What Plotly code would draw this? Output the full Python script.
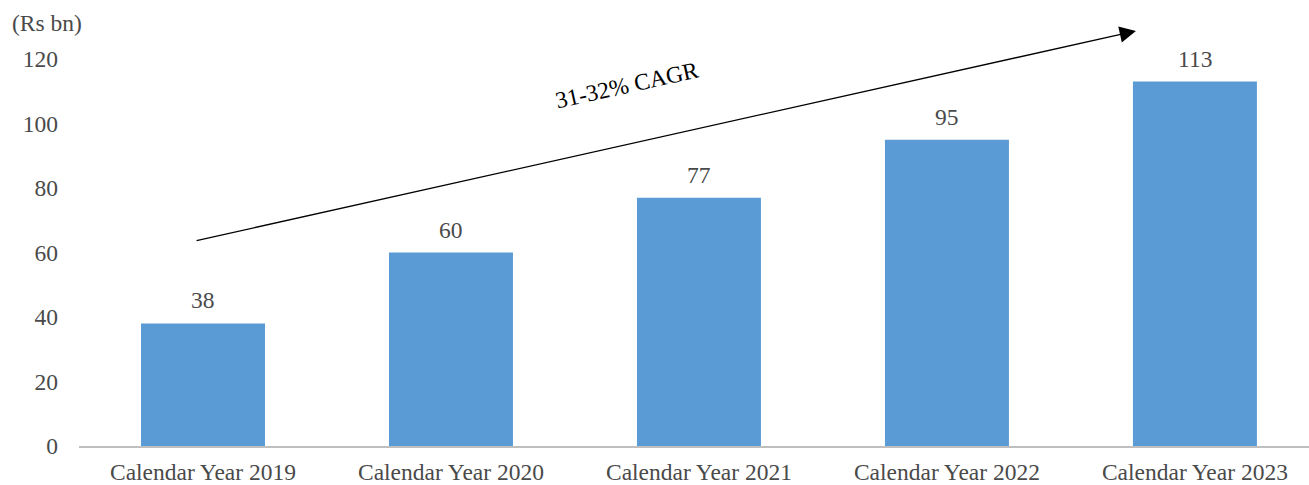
import plotly.graph_objects as go

categories = ["Calendar Year 2019", "Calendar Year 2020", "Calendar Year 2021",
              "Calendar Year 2022", "Calendar Year 2023"]
values = [38, 60, 77, 95, 113]
y_ticks = [0, 20, 40, 60, 80, 100, 120]
unit_label = "(Rs bn)"
cagr_label = "31-32% CAGR"

FONT = "Liberation Serif"
TXT = "#4a4a4a"

fig = go.Figure()
fig.add_trace(go.Bar(
    x=list(range(len(categories))), y=values,
    marker=dict(color="#5B9BD5", line=dict(width=0)),
    width=0.5, hoverinfo="skip",
))

for i, v in enumerate(values):
    fig.add_annotation(x=i, y=v, text=str(v), showarrow=False,
                       yanchor="bottom", yshift=8,
                       font=dict(family=FONT, size=23.5, color=TXT))

# CAGR arrow
fig.add_annotation(x=3.762, y=128.7, ax=-0.032, ay=63.6,
                   xref="x", yref="y", axref="x", ayref="y",
                   showarrow=True, arrowhead=2, arrowsize=2.5, arrowwidth=1.3,
                   arrowcolor="black", text="")
fig.add_annotation(x=1.71, y=112, text=cagr_label, showarrow=False,
                   textangle=-12.5, xref="x", yref="y",
                   font=dict(family=FONT, size=23.5, color="black"))

fig.add_annotation(x=-69/1230, y=(446-23)/446, xref="paper", yref="paper",
                   text=unit_label, showarrow=False, xanchor="left", yanchor="middle",
                   font=dict(family=FONT, size=23.5, color=TXT))

fig.update_layout(
    width=1309, height=485,
    margin=dict(l=79, r=0, t=0, b=39),
    plot_bgcolor="white", paper_bgcolor="white",
    showlegend=False,
    font=dict(family=FONT, size=23.5, color=TXT),
    xaxis=dict(range=[-0.5, 4.46], tickmode="array",
               tickvals=list(range(len(categories))), ticktext=categories,
               showgrid=False, zeroline=False, showline=True,
               linecolor="#BFBFBF", linewidth=1.5, ticks="",
               ticklabelstandoff=4,
               tickfont=dict(family=FONT, size=23.5, color=TXT)),
    yaxis=dict(range=[0, 138.3], tickmode="array", tickvals=y_ticks,
               showgrid=False, zeroline=False, showline=False, ticks="",
               ticklabelstandoff=20,
               tickfont=dict(family=FONT, size=23.5, color=TXT)),
)

fig.write_html("out.html", config={"displayModeBar": False},
               post_script="document.body.style.margin='0';document.body.style.overflow='hidden';")
